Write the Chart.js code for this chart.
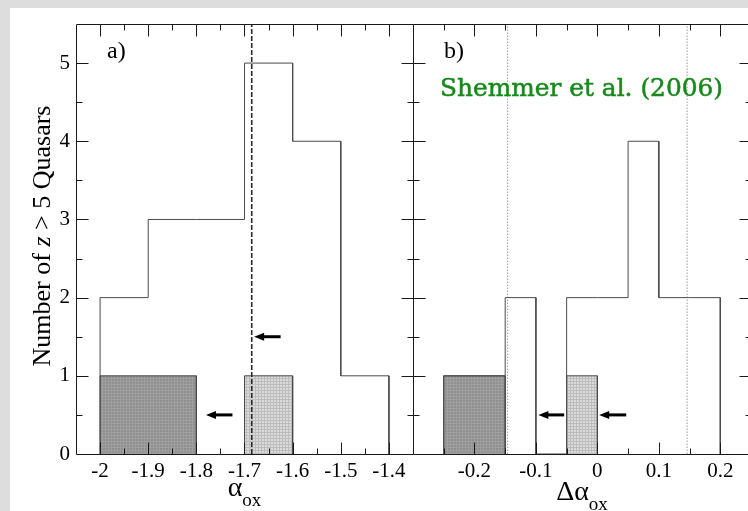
<!DOCTYPE html>
<html>
<head>
<meta charset="utf-8">
<title>alpha_ox histograms</title>
<script src="https://cdn.jsdelivr.net/npm/chart.js@4.4.1/dist/chart.umd.min.js"></script>
<style>
  html, body { margin: 0; padding: 0; background: #dddddd; overflow: hidden; }
  #sheet { position: absolute; left: 10px; top: 8px; width: 760px; height: 520px; background: #ffffff; }
  canvas { position: absolute; left: 0; top: 0; }
</style>
</head>
<body>
<div id="sheet"></div>
<canvas id="panelA" width="760" height="511"></canvas>
<canvas id="panelB" width="760" height="511"></canvas>
<script>
// ---- panel a): alpha_ox distribution ----
const alphaEdges = [-2.0, -1.9, -1.8, -1.7, -1.6, -1.5, -1.4];
const alphaCounts = [2, 3, 3, 5, 4, 1];
const alphaDarkEdges = [-2.0, -1.8];
const alphaDarkCounts = [1];
const alphaLightEdges = [-1.7, -1.6];
const alphaLightCounts = [1];
const alphaMarker = -1.685;
const alphaArrowY = [1.5, 0.5];
const alphaArrowFrom = [-1.625, -1.725];
const alphaArrowTo = [-1.68, -1.78];
const alphaTicks = [-2.0, -1.9, -1.8, -1.7, -1.6, -1.5, -1.4];
const alphaTickLabels = ['-2', '-1.9', '-1.8', '-1.7', '-1.6', '-1.5', '-1.4'];

// ---- panel b): delta alpha_ox distribution ----
const deltaEdges = [-0.25, -0.2, -0.15, -0.1, -0.05, 0, 0.05, 0.1, 0.15, 0.2];
const deltaCounts = [1, 1, 2, 0, 2, 2, 4, 2, 2];
const deltaDarkEdges = [-0.25, -0.15];
const deltaDarkCounts = [1];
const deltaLightEdges = [-0.05, 0];
const deltaLightCounts = [1];
const deltaSigma = [-0.146, 0.146];
const deltaArrowY = [0.5, 0.5];
const deltaArrowFrom = [-0.054, 0.047];
const deltaArrowTo = [-0.096, 0.003];
const deltaTicks = [-0.2, -0.1, 0, 0.1, 0.2];
const deltaTickLabels = ['-0.2', '-0.1', '0', '0.1', '0.2'];

const countTicks = [0, 1, 2, 3, 4, 5];
const countTickLabels = ['0', '1', '2', '3', '4', '5'];

const SERIF = "'Liberation Serif', 'Times New Roman', serif";
const INK = '#1a1a1a';
const HIST = '#4a4a4a';

// histogram outline as a closed step polygon
function stepOutline(edges, counts) {
  const pts = [{ x: edges[0], y: 0 }];
  counts.forEach((c, i) => {
    pts.push({ x: edges[i], y: c }, { x: edges[i + 1], y: c });
  });
  pts.push({ x: edges[edges.length - 1], y: 0 });
  return pts;
}

function stipple(base, grid) {
  const c = document.createElement('canvas');
  c.width = c.height = 3;
  const g = c.getContext('2d');
  g.fillStyle = base;
  g.fillRect(0, 0, 3, 3);
  g.fillStyle = grid;
  g.fillRect(0, 0, 3, 1);
  g.fillRect(0, 0, 1, 3);
  return g.createPattern(c, 'repeat');
}
const darkFill = stipple('#8f8f8f', '#9f9f9f');
const lightFill = stipple('#dadada', '#bdbdbd');

// frame with inward major/minor ticks on all four sides
const framePlugin = {
  id: 'frame',
  afterDatasetsDraw(chart, args, o) {
    const { ctx, chartArea: a, scales: { x, y } } = chart;
    const L = Math.round(a.left) + 0.5, R = Math.round(a.right) + 0.5;
    const T = Math.round(a.top) + 0.5, B = Math.round(a.bottom) + 0.5;
    ctx.save();
    ctx.strokeStyle = INK;
    ctx.lineWidth = 1;
    ctx.beginPath();
    ctx.rect(L, T, R - L, B - T);
    const k0 = Math.ceil(x.min / o.xMinor - 1e-6), k1 = Math.floor(x.max / o.xMinor + 1e-6);
    for (let k = k0; k <= k1; k++) {
      const px = Math.round(x.getPixelForValue(k * o.xMinor)) + 0.5;
      if (px - L < 2 || R - px < 2) continue;
      const len = k % 2 === 0 ? 12 : 6;
      ctx.moveTo(px, B); ctx.lineTo(px, B - len);
      ctx.moveTo(px, T); ctx.lineTo(px, T + len);
    }
    const j0 = Math.ceil(y.min / o.yMinor - 1e-6), j1 = Math.floor(y.max / o.yMinor + 1e-6);
    for (let j = j0; j <= j1; j++) {
      const py = Math.round(y.getPixelForValue(j * o.yMinor)) + 0.5;
      if (B - py < 2 || py - T < 2) continue;
      const len = j % 2 === 0 ? 12 : 6;
      ctx.moveTo(L, py); ctx.lineTo(L + len, py);
      ctx.moveTo(R, py); ctx.lineTo(R - len, py);
    }
    ctx.stroke();
    ctx.restore();
  }
};

// leftward pointing arrows at given data positions
const arrowPlugin = {
  id: 'arrows',
  afterDatasetsDraw(chart, args, o) {
    const { ctx, scales: { x, y } } = chart;
    ctx.save();
    ctx.strokeStyle = '#000';
    ctx.fillStyle = '#000';
    ctx.lineWidth = 3;
    o.ys.forEach((v, i) => {
      const py = y.getPixelForValue(v);
      const x0 = x.getPixelForValue(o.from[i]);
      const x1 = x.getPixelForValue(o.to[i]);
      ctx.beginPath();
      ctx.moveTo(x0, py);
      ctx.lineTo(x1 + 7, py);
      ctx.stroke();
      ctx.beginPath();
      ctx.moveTo(x1, py);
      ctx.lineTo(x1 + 10, py - 4);
      ctx.lineTo(x1 + 10, py + 4);
      ctx.closePath();
      ctx.fill();
    });
    ctx.restore();
  }
};

// run of text pieces with their own fonts, optionally shifted down (subscripts)
function drawRun(ctx, pieces, cx, baseline) {
  let total = 0;
  pieces.forEach(p => { ctx.font = p.font; p.w = ctx.measureText(p.text).width; total += p.w; });
  let px = cx - total / 2;
  pieces.forEach(p => {
    ctx.font = p.font;
    ctx.fillText(p.text, px, baseline + (p.dy || 0));
    px += p.w;
  });
}

const notesPlugin = {
  id: 'notes',
  afterDraw(chart, args, o) {
    const { ctx, chartArea: a } = chart;
    ctx.save();
    ctx.fillStyle = '#000';
    ctx.textBaseline = 'alphabetic';
    ctx.textAlign = 'left';
    ctx.font = '24px ' + SERIF;
    ctx.fillText(o.letter, a.left + o.letterDx, 58);
    const cx = (a.left + a.right) / 2;
    drawRun(ctx, o.xTitle, cx, o.xTitleBase);
    if (o.yTitle) {
      ctx.save();
      ctx.translate(41, (a.top + a.bottom) / 2 - 3);
      ctx.rotate(-Math.PI / 2);
      drawRun(ctx, o.yTitle, 0, 9);
      ctx.restore();
    }
    if (o.credit) {
      ctx.font = "25px 'DejaVu Serif', serif";
      ctx.fillStyle = '#16891a';
      ctx.strokeStyle = '#16891a';
      ctx.lineWidth = 0.5;
      const w = ctx.measureText(o.credit).width;
      ctx.translate(o.creditX, o.creditY);
      ctx.scale(o.creditW / w, 1);
      ctx.fillText(o.credit, 0, 0);
      ctx.strokeText(o.credit, 0, 0);
    }
    ctx.restore();
  }
};

function panel(id, cfg) {
  return new Chart(document.getElementById(id), {
    type: 'line',
    data: { datasets: cfg.datasets },
    plugins: [framePlugin, arrowPlugin, notesPlugin],
    options: {
      responsive: false,
      animation: false,
      events: [],
      layout: { padding: { left: cfg.padLeft, right: cfg.padRight, top: 24, bottom: 0 } },
      elements: { point: { radius: 0 }, line: { tension: 0 } },
      plugins: {
        legend: { display: false },
        tooltip: { enabled: false },
        frame: { xMinor: cfg.xMinor, yMinor: 0.5 },
        arrows: cfg.arrows,
        notes: cfg.notes
      },
      scales: {
        x: {
          type: 'linear',
          min: cfg.xMin,
          max: cfg.xMax,
          grid: { display: false, drawTicks: false },
          border: { display: false },
          afterBuildTicks: s => { s.ticks = cfg.xTicks.map(v => ({ value: v })); },
          afterFit: s => { s.height = 57; },
          ticks: {
            autoSkip: false,
            maxRotation: 0,
            padding: 5,
            color: '#000',
            font: { family: SERIF, size: 21 },
            callback: (v, i) => cfg.xLabels[i]
          }
        },
        y: {
          type: 'linear',
          display: cfg.showY,
          min: 0,
          max: 5.5,
          grid: { display: false, drawTicks: false },
          border: { display: false },
          afterBuildTicks: s => { s.ticks = countTicks.map(v => ({ value: v })); },
          afterFit: s => { s.width = cfg.showY ? 76 : 0; },
          ticks: {
            padding: 6,
            color: '#000',
            font: { family: SERIF, size: 21 },
            callback: (v, i) => countTickLabels[i]
          }
        }
      }
    }
  });
}

function histSets(edges, counts, darkE, darkC, lightE, lightC) {
  return [
    { data: stepOutline(darkE, darkC), fill: 'origin', backgroundColor: darkFill,
      borderColor: HIST, borderWidth: 1, order: 4 },
    { data: stepOutline(lightE, lightC), fill: 'origin', backgroundColor: lightFill,
      borderColor: HIST, borderWidth: 1, order: 4 },
    { data: stepOutline(edges, counts), fill: false, borderColor: HIST, borderWidth: 1, order: 3 }
  ];
}

function verticalAt(v, style) {
  return Object.assign({ data: [{ x: v, y: 0 }, { x: v, y: 5.5 }], fill: false, order: 1 }, style);
}

panel('panelA', {
  padLeft: 0, padRight: 760 - 413, showY: true,
  xMin: -2.05, xMax: -1.35, xMinor: 0.05,
  xTicks: alphaTicks, xLabels: alphaTickLabels,
  datasets: histSets(alphaEdges, alphaCounts, alphaDarkEdges, alphaDarkCounts,
                     alphaLightEdges, alphaLightCounts)
    .concat([verticalAt(alphaMarker, { borderColor: '#2a2a2a', borderWidth: 1.6, borderDash: [5, 2] })]),
  arrows: { ys: alphaArrowY, from: alphaArrowFrom, to: alphaArrowTo },
  notes: {
    letter: 'a)', letterDx: 31, xTitleBase: 496,
    xTitle: [
      { text: '\u03b1', font: '28px ' + SERIF },
      { text: 'ox', font: '19px ' + SERIF, dy: 10 }
    ],
    yTitle: [
      { text: 'Number of ', font: '26px ' + SERIF },
      { text: 'z', font: 'italic 26px ' + SERIF },
      { text: ' > 5 Quasars', font: '26px ' + SERIF }
    ]
  }
});

panel('panelB', {
  padLeft: 413, padRight: 9, showY: false,
  xMin: -0.3, xMax: 0.25, xMinor: 0.05,
  xTicks: deltaTicks, xLabels: deltaTickLabels,
  datasets: histSets(deltaEdges, deltaCounts, deltaDarkEdges, deltaDarkCounts,
                     deltaLightEdges, deltaLightCounts)
    .concat(deltaSigma.map(v => verticalAt(v, { borderColor: '#9a9a9a', borderWidth: 1, borderDash: [1.5, 1.5], order: 5 }))),
  arrows: { ys: deltaArrowY, from: deltaArrowFrom, to: deltaArrowTo },
  notes: {
    letter: 'b)', letterDx: 31, xTitleBase: 500,
    xTitle: [
      { text: '\u0394\u03b1', font: '28px ' + SERIF },
      { text: 'ox', font: '19px ' + SERIF, dy: 10 }
    ],
    credit: 'Shemmer et al. (2006)', creditX: 440, creditY: 96, creditW: 283
  }
});
</script>
</body>
</html>
